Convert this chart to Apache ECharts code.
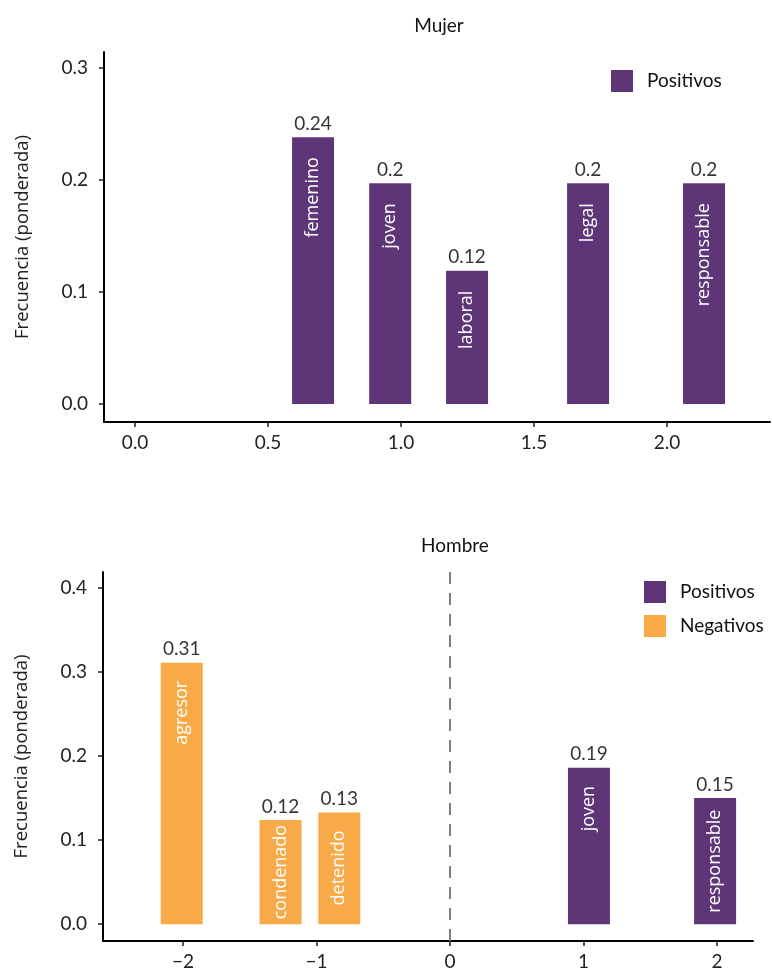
<!DOCTYPE html>
<html>
<head>
<meta charset="utf-8">
<script src="https://cdn.jsdelivr.net/npm/echarts@6/dist/echarts.min.js"></script>
<style>html,body{margin:0;padding:0;background:#fff;}#c{width:772px;height:973px;}</style>
</head>
<body>
<div id="c"></div>
<script>
// ---- data ----
const mujerWords = ['femenino', 'joven', 'laboral', 'legal', 'responsable'];
const mujerX = [0.669, 0.959, 1.248, 1.703, 2.139];
const mujerVals = [0.238, 0.197, 0.119, 0.197, 0.197];

const hombreNegWords = ['agresor', 'condenado', 'detenido'];
const hombreNegX = [-2.01, -1.27, -0.83];
const hombreNegVals = [0.311, 0.124, 0.133];

const hombrePosWords = ['joven', 'responsable'];
const hombrePosX = [1.04, 1.985];
const hombrePosVals = [0.186, 0.150];

const mujerXTicks = [0, 0.5, 1, 1.5, 2];
const mujerYTicks = [0, 0.1, 0.2, 0.3];
const hombreXTicks = [-2, -1, 0, 1, 2];
const hombreYTicks = [0, 0.1, 0.2, 0.3, 0.4];

// ---- layout ----
const PURPLE = '#5E3678';
const ORANGE = '#F8A948';
const NUMFONT = 'Lato';
const WORDFONT = 'Open Sans';

const G0 = {left: 104, top: 52, width: 666, height: 370};
const G1 = {left: 103, top: 572, width: 650, height: 369};
const Y0 = {min: -0.016, max: 0.314};
const Y1 = {min: -0.02, max: 0.419};
const X0 = {min: -0.117, max: 2.387};
const X1 = {min: -2.6, max: 2.269};

const cv = document.createElement('canvas').getContext('2d');
cv.font = '18px "' + WORDFONT + '"';
function tw(s) { return cv.measureText(s).width; }

function barItems(xs, vals, words, grid, yr, base) {
  const ppu = grid.height / (yr.max - yr.min);
  return xs.map((x, i) => {
    const h = vals[i] * ppu;
    const w = tw(words[i]);
    let d = base;
    if (base + w > h - 8) d = Math.max(2, (h - w) / 2);
    return {value: [x, vals[i]], name: words[i], label: {distance: d}};
  });
}
function pts(xs, vals) { return xs.map((x, i) => [x, vals[i]]); }
function fmtVal(v) { return String(Number(v.toFixed(2))); }

function xAxis(idx, r, ticks, fmt) {
  return {
    type: 'value', gridIndex: idx, min: r.min, max: r.max,
    splitLine: {show: false},
    axisLine: {show: true, onZero: false, lineStyle: {color: '#000', width: 2}},
    axisTick: {show: true, length: 5, customValues: ticks, lineStyle: {color: '#222', width: 1.5}},
    axisLabel: {show: true, customValues: ticks, formatter: fmt, margin: 11,
      fontFamily: NUMFONT, fontSize: 19, color: '#222'}
  };
}
function yAxis(idx, r, ticks) {
  return {
    type: 'value', gridIndex: idx, min: r.min, max: r.max,
    splitLine: {show: false},
    axisLine: {show: true, onZero: false, lineStyle: {color: '#000', width: 2}},
    axisTick: {show: true, length: 5, customValues: ticks, lineStyle: {color: '#222', width: 1.5}},
    axisLabel: {show: true, customValues: ticks, formatter: v => v.toFixed(1), margin: 16,
      fontFamily: NUMFONT, fontSize: 19, color: '#222'},
    name: 'Frecuencia (ponderada)', nameLocation: 'middle', nameGap: 72, nameRotate: 90,
    nameTextStyle: {fontFamily: WORDFONT, fontSize: 18.5, color: '#222'}
  };
}

const insideLabel = {
  show: true, position: 'insideTop', rotate: 90, align: 'right', verticalAlign: 'middle',
  color: '#fff', fontFamily: WORDFONT, fontSize: 18, formatter: p => p.name
};
const topLabel = {
  show: true, position: 'top', distance: 4, color: '#000',
  fontFamily: NUMFONT, fontSize: 19, formatter: p => fmtVal(p.value[1])
};

function barSeries(name, color, xi, yi, data) {
  return {
    type: 'bar', name: name, xAxisIndex: xi, yAxisIndex: yi, data: data,
    barWidth: 42, barGap: '-100%', itemStyle: {color: color},
    label: insideLabel
  };
}
function valSeries(xi, yi, data) {
  return {
    type: 'scatter', name: '_v' + xi + data.length, xAxisIndex: xi, yAxisIndex: yi,
    data: data, symbolSize: 0, silent: true, label: topLabel, z: 5
  };
}

const hNeg = barSeries('Negativos', ORANGE, 1, 1, barItems(hombreNegX, hombreNegVals, hombreNegWords, G1, Y1, 18));
const hPos = barSeries('Positivos', PURPLE, 1, 1, barItems(hombrePosX, hombrePosVals, hombrePosWords, G1, Y1, 18));
hPos.markLine = {
  silent: true, symbol: ['none', 'none'], label: {show: false},
  lineStyle: {type: [12, 9], color: '#7f7f7f', width: 2},
  data: [{xAxis: 0}]
};

const option = {
  animation: false,
  backgroundColor: '#fff',
  title: [
    {text: 'Mujer', left: 434, top: 11, textAlign: 'center',
      textStyle: {fontFamily: NUMFONT, fontSize: 19, fontWeight: 'normal', color: '#111'}},
    {text: 'Hombre', left: 450, top: 531, textAlign: 'center',
      textStyle: {fontFamily: NUMFONT, fontSize: 19, fontWeight: 'normal', color: '#111'}}
  ],
  legend: [
    {data: ['Positivos'], left: 611, top: 70, orient: 'vertical', icon: 'rect',
      itemWidth: 22, itemHeight: 22, padding: 0,
      textStyle: {fontFamily: NUMFONT, fontSize: 19, color: '#111', padding: [0, 0, 0, 9]}},
    {data: ['Positivos', 'Negativos'], left: 644, top: 581, orient: 'vertical', icon: 'rect',
      itemWidth: 22, itemHeight: 22, itemGap: 12, padding: 0,
      textStyle: {fontFamily: NUMFONT, fontSize: 19, color: '#111', padding: [0, 0, 0, 9]}}
  ],
  grid: [
    Object.assign({containLabel: false}, G0),
    Object.assign({containLabel: false}, G1)
  ],
  xAxis: [
    xAxis(0, X0, mujerXTicks, v => v.toFixed(1)),
    xAxis(1, X1, hombreXTicks, v => (v < 0 ? '\u2212' + Math.abs(v) : String(v)))
  ],
  yAxis: [yAxis(0, Y0, mujerYTicks), yAxis(1, Y1, hombreYTicks)],
  series: [
    barSeries('Positivos', PURPLE, 0, 0, barItems(mujerX, mujerVals, mujerWords, G0, Y0, 20)),
    valSeries(0, 0, pts(mujerX, mujerVals)),
    hNeg, hPos,
    valSeries(1, 1, pts(hombreNegX.concat(hombrePosX), hombreNegVals.concat(hombrePosVals)))
  ]
};

const chart = echarts.init(document.getElementById('c'), null, {renderer: 'canvas'});
chart.setOption(option);
</script>
</body>
</html>
